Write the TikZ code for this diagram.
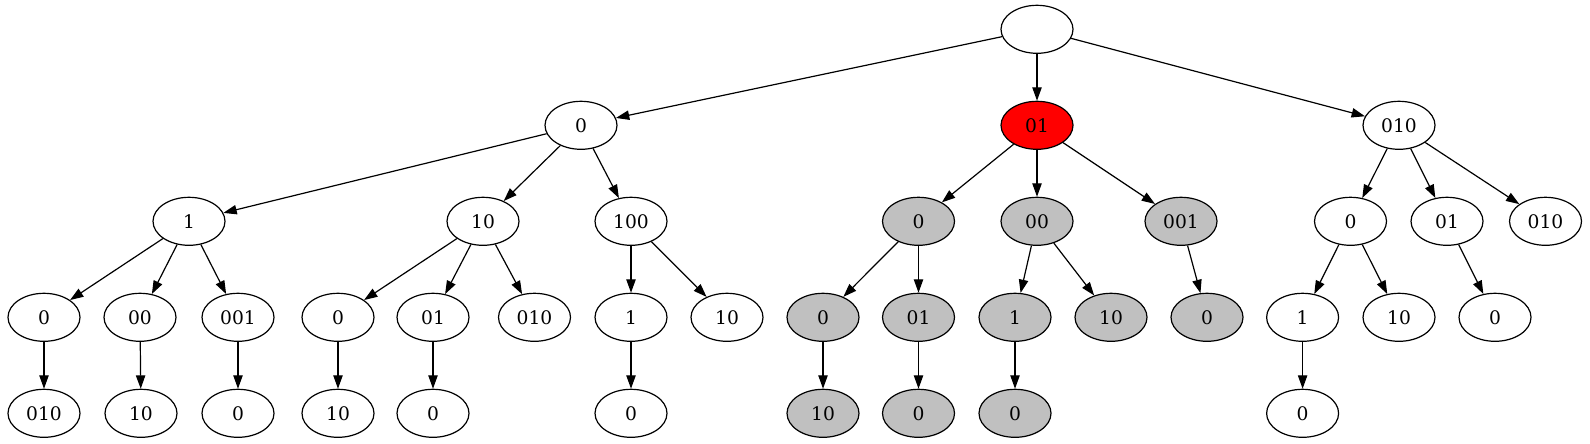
\documentclass[tikz,border=0pt]{standalone}
\usepackage{fontspec}
\setmainfont{DejaVu Serif}
\usetikzlibrary{shapes.geometric,arrows.meta}
\definecolor{gvred}{RGB}{255,0,0}
\definecolor{gvgray}{RGB}{192,192,192}
\begin{document}
\begin{tikzpicture}[x=0.75pt,y=-0.75pt,
  tn/.style={draw,ellipse,minimum width=54pt,minimum height=36pt,inner sep=0pt,line width=0.9pt,font=\fontsize{14pt}{16pt}\selectfont,fill=white},
  gn/.style={tn,fill=gvgray},
  rn/.style={tn,fill=gvred},
  ed/.style={line width=0.9pt,-{Triangle[length=10pt,width=7pt]}}]
\useasboundingbox (0,0) rectangle (1590,443);
% level 0
\node[tn] (r) at (1037,29.3) {};
% level 1
\node[tn] (a) at (581,125.3) {0};
\node[rn] (b) at (1037,125.3) {01};
\node[tn] (c) at (1399,125.3) {010};
% level 2
\node[tn] (a1) at (189,221.3) {1};
\node[tn] (a2) at (483,221.3) {10};
\node[tn] (a3) at (631,221.3) {100};
\node[gn] (b1) at (918.5,221.3) {0};
\node[gn] (b2) at (1037,221.3) {00};
\node[gn] (b3) at (1181,221.3) {001};
\node[tn] (c1) at (1350.5,221.3) {0};
\node[tn] (c2) at (1447,221.3) {01};
\node[tn] (c3) at (1545.5,221.3) {010};
% level 3
\node[tn] (a11) at (44,317.3) {0};
\node[tn] (a12) at (140,317.3) {00};
\node[tn] (a13) at (238,317.3) {001};
\node[tn] (a21) at (338,317.3) {0};
\node[tn] (a22) at (433,317.3) {01};
\node[tn] (a23) at (534.5,317.3) {010};
\node[tn] (a31) at (631,317.3) {1};
\node[tn] (a32) at (727,317.3) {10};
\node[gn] (b11) at (823,317.3) {0};
\node[gn] (b12) at (918.5,317.3) {01};
\node[gn] (b21) at (1015,317.3) {1};
\node[gn] (b22) at (1111,317.3) {10};
\node[gn] (b31) at (1207,317.3) {0};
\node[tn] (c11) at (1302.6,317.3) {1};
\node[tn] (c12) at (1399,317.3) {10};
\node[tn] (c21) at (1495,317.3) {0};
% level 4
\node[tn] (a111) at (44,413.3) {010};
\node[tn] (a121) at (141,413.3) {10};
\node[tn] (a131) at (238,413.3) {0};
\node[tn] (a211) at (338,413.3) {10};
\node[tn] (a221) at (433,413.3) {0};
\node[tn] (a311) at (631,413.3) {0};
\node[gn] (b111) at (823,413.3) {10};
\node[gn] (b121) at (918.5,413.3) {0};
\node[gn] (b211) at (1015,413.3) {0};
\node[tn] (c111) at (1302.6,413.3) {0};
% edges
\foreach \p/\q in {r/a,r/b,r/c,
  a/a1,a/a2,a/a3,b/b1,b/b2,b/b3,c/c1,c/c2,c/c3,
  a1/a11,a1/a12,a1/a13,a2/a21,a2/a22,a2/a23,a3/a31,a3/a32,
  b1/b11,b1/b12,b2/b21,b2/b22,b3/b31,c1/c11,c1/c12,c2/c21,
  a11/a111,a12/a121,a13/a131,a21/a211,a22/a221,a31/a311,
  b11/b111,b12/b121,b21/b211,c11/c111}
  \draw[ed] (\p) -- (\q);
\end{tikzpicture}
\end{document}
